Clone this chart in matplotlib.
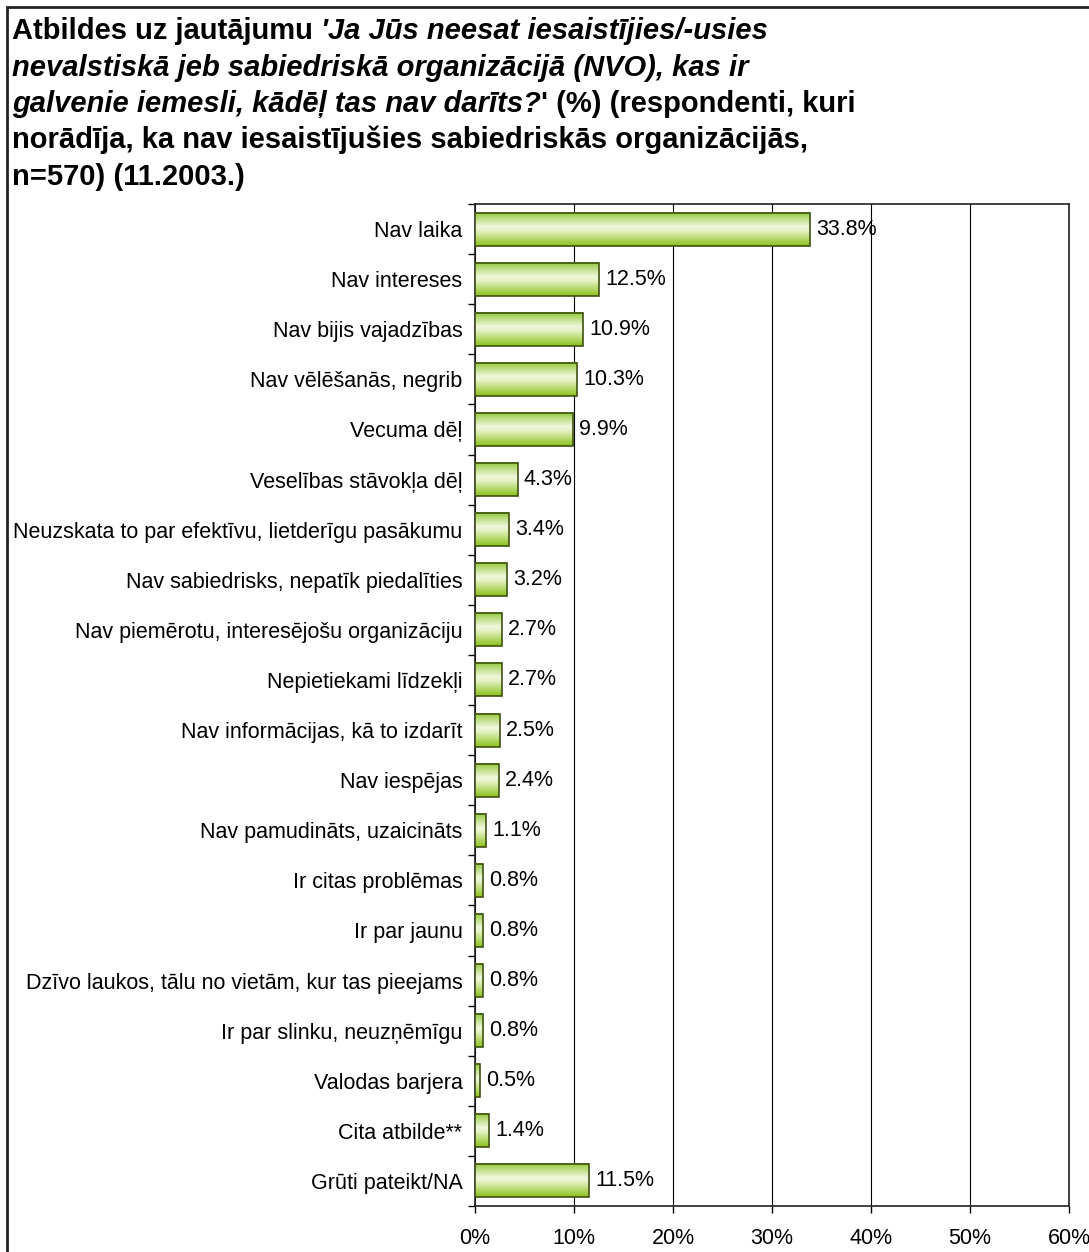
import matplotlib

matplotlib.use("Agg")

import matplotlib.pyplot as plt
import numpy as np
from matplotlib.colors import LinearSegmentedColormap
from matplotlib.patches import Rectangle

plt.rcParams["font.family"] = ["Liberation Sans", "DejaVu Sans"]

categories = [
    "Nav laika",
    "Nav intereses",
    "Nav bijis vajadzības",
    "Nav vēlēšanās, negrib",
    "Vecuma dēļ",
    "Veselības stāvokļa dēļ",
    "Neuzskata to par efektīvu, lietderīgu pasākumu",
    "Nav sabiedrisks, nepatīk piedalīties",
    "Nav piemērotu, interesējošu organizāciju",
    "Nepietiekami līdzekļi",
    "Nav informācijas, kā to izdarīt",
    "Nav iespējas",
    "Nav pamudināts, uzaicināts",
    "Ir citas problēmas",
    "Ir par jaunu",
    "Dzīvo laukos, tālu no vietām, kur tas pieejams",
    "Ir par slinku, neuzņēmīgu",
    "Valodas barjera",
    "Cita atbilde**",
    "Grūti pateikt/NA",
]
values = [33.8, 12.5, 10.9, 10.3, 9.9, 4.3, 3.4, 3.2, 2.7, 2.7,
          2.5, 2.4, 1.1, 0.8, 0.8, 0.8, 0.8, 0.5, 1.4, 11.5]
x_ticks = [0, 10, 20, 30, 40, 50, 60]

# title pieces per line: (text, italic)
title_lines = [
    [("Atbildes uz jautājumu ", False), ("'Ja Jūs neesat iesaistījies/-usies", True)],
    [("nevalstiskā jeb sabiedriskā organizācijā (NVO), kas ir", True)],
    [("galvenie iemesli, kādēļ tas nav darīts?", True), ("' (%) (respondenti, kuri", False)],
    [("norādīja, ka nav iesaistījušies sabiedriskās organizācijās,", False)],
    [("n=570) (11.2003.)", False)],
]

W, H = 1089, 1252
FS = 15.5
fig = plt.figure(figsize=(W / 100, H / 100), dpi=100)
fig.patch.set_facecolor("white")

ax = fig.add_axes([475 / W, 1 - 1206 / H, (1069 - 475) / W, (1206 - 204) / H])

green = LinearSegmentedColormap.from_list(
    "bar", [(0.0, "#92c83a"), (0.42, "#f0f7dc"), (0.55, "#e6f2c4"), (1.0, "#8cc21c")]
)
grad = np.linspace(0, 1, 64).reshape(-1, 1)
bar_h = 0.66
pos = np.arange(len(categories))

for y, v in zip(pos, values):
    ax.imshow(grad, cmap=green, aspect="auto", interpolation="bilinear",
              extent=(0, v, y + bar_h / 2, y - bar_h / 2), zorder=3)
ax.barh(pos, values, height=bar_h, facecolor="none", edgecolor="#3f5212",
        linewidth=1.2, zorder=4)

for y, v in zip(pos, values):
    ax.annotate(f"{v:.1f}%", xy=(v, y), xytext=(4.5, 0), textcoords="offset points",
                va="center", ha="left", fontsize=FS, color="black", zorder=5)

ax.set_xlim(0, 60)
ax.set_ylim(len(categories) - 0.5, -0.5)
ax.set_xticks(x_ticks)
ax.set_xticklabels([f"{t}%" for t in x_ticks], fontsize=FS)
ax.set_yticks(pos)
ax.set_yticklabels(categories, fontsize=FS)
ax.set_yticks(np.arange(len(categories) + 1) - 0.5, minor=True)
ax.tick_params(axis="y", which="major", length=0, pad=9)
ax.tick_params(axis="y", which="minor", length=5, direction="out", width=1)
ax.tick_params(axis="x", length=5, direction="out", width=1, pad=11)
ax.xaxis.grid(True, color="black", linewidth=0.8, zorder=0)
ax.set_axisbelow(True)
for s in ax.spines.values():
    s.set_color("#222222")
    s.set_linewidth(1.2)

# outer chart border (cropped on the right and bottom)
fig.patches.append(Rectangle((7 / W, -0.05), 1.2, 1 - 7 / H + 0.05, transform=fig.transFigure,
                             fill=False, edgecolor="#222222", linewidth=2))

fig.canvas.draw()
renderer = fig.canvas.get_renderer()
baselines = [39, 76, 112, 148, 185]
for line, base in zip(title_lines, baselines):
    x = 12 / W
    for txt, it in line:
        t = fig.text(x, 1 - base / H, txt, fontsize=21, fontweight="bold",
                     fontstyle="italic" if it else "normal", va="baseline", ha="left")
        bb = t.get_window_extent(renderer)
        x += bb.width / W

fig.savefig("out.png", dpi=100)
